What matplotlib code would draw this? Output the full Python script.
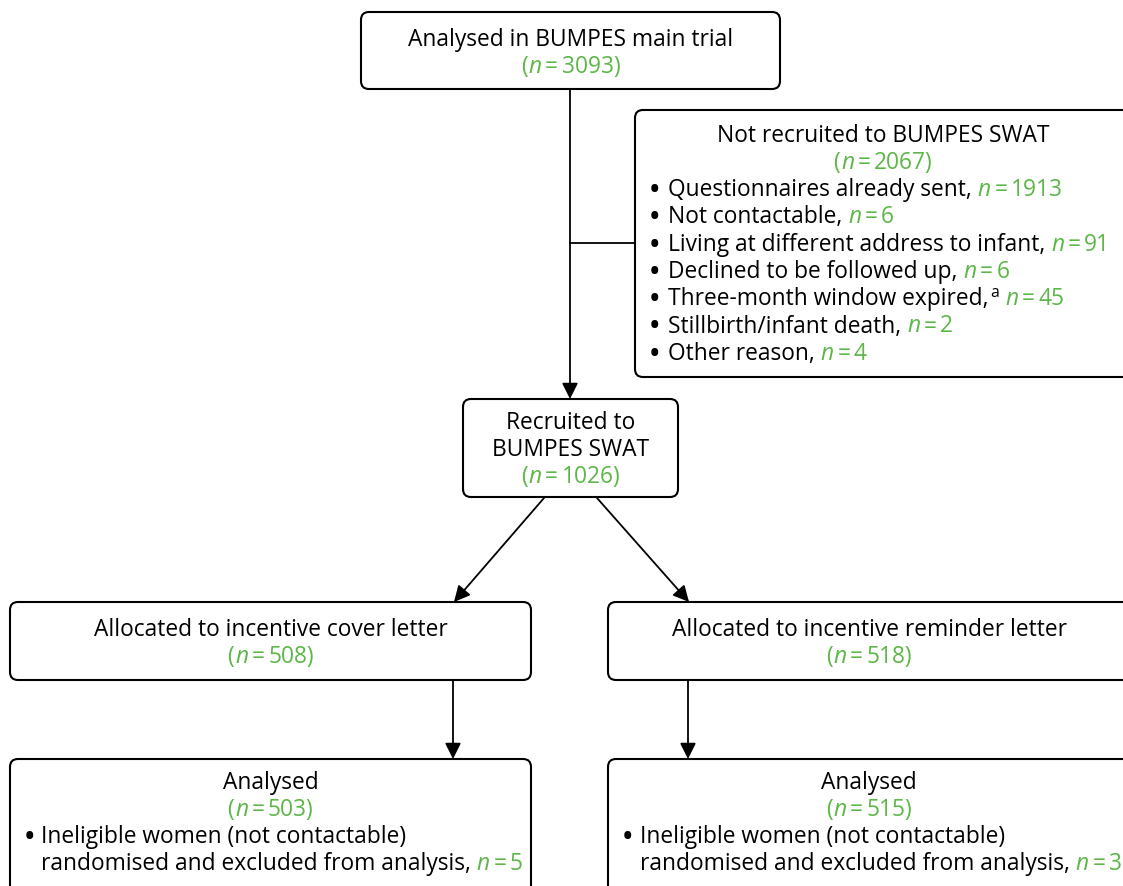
import matplotlib
matplotlib.use('Agg')
import matplotlib.pyplot as plt
from matplotlib.patches import FancyBboxPatch

# ---------------- data ----------------
main_label = "Analysed in BUMPES main trial"
main_n = 3093
not_recruited_label = "Not recruited to BUMPES SWAT"
not_recruited_n = 2067
reasons = ["Questionnaires already sent,", "Not contactable,",
           "Living at different address to infant,", "Declined to be followed up,",
           "Three-month window expired,", "Stillbirth/infant death,", "Other reason,"]
reason_counts = [1913, 6, 91, 6, 45, 2, 4]
reason_notes = ["", "", "", "", "a", "", ""]
recruited_label = ["Recruited to", "BUMPES SWAT"]
recruited_n = 1026
alloc_labels = ["Allocated to incentive cover letter", "Allocated to incentive reminder letter"]
alloc_n = [508, 518]
analysed_label = "Analysed"
analysed_n = [503, 515]
excluded_label = ["Ineligible women (not contactable)", "randomised and excluded from analysis,"]
excluded_n = [5, 3]

# ---------------- style ----------------
FAMILY = ['Open Sans', 'DejaVu Sans']
FS = 16.4
GREEN = '#5cb748'
BLW = 1.5
LLW = 1.3

fig = plt.figure(figsize=(11.23, 8.86), dpi=100)
ax = fig.add_axes([0, 0, 1, 1])
ax.set_xlim(0, 1123)
ax.set_ylim(886, 0)
ax.axis('off')
R = fig.canvas.get_renderer()


def w(s, style='normal', size=FS):
    t = ax.text(0, 0, s, fontsize=size, family=FAMILY, style=style)
    bb = t.get_window_extent(renderer=R)
    t.remove()
    return bb.width


SP = w("a a") - w("aa")
TH = SP * 0.6


def tok(text, color='black', style='normal', size=FS, dy=0, gap=0.0):
    return dict(text=text, color=color, style=style, size=size, dy=dy, gap=gap)


def n_tokens(n, paren=False, gap=None):
    g = SP if gap is None else gap
    out = []
    if paren:
        out.append(tok("(", GREEN, gap=g))
        out.append(tok("n", GREEN, 'italic', gap=1.0))
    else:
        out.append(tok("n", GREEN, 'italic', gap=g))
    out.append(tok("=", GREEN, gap=TH))
    out.append(tok(f"{n}" + (")" if paren else ""), GREEN, gap=TH))
    return out


def draw_line(x, y, tokens, center=False):
    widths = [w(t['text'], t['style'], t['size']) for t in tokens]
    gaps = [t['gap'] for t in tokens]
    gaps[0] = 0
    total = sum(widths) + sum(gaps)
    x0 = x - total / 2 if center else x
    for t, wd, g in zip(tokens, widths, gaps):
        x0 += g
        ax.text(x0, y - t['dy'], t['text'], ha='left', va='baseline',
                fontsize=t['size'], family=FAMILY, style=t['style'], color=t['color'])
        x0 += wd


def box(x0, y0, x1, y1):
    p = FancyBboxPatch((x0, y0), x1 - x0, y1 - y0,
                       boxstyle="round,pad=0,rounding_size=8",
                       fc='white', ec='black', lw=BLW, zorder=2)
    ax.add_patch(p)


def arrow(x0, y0, x1, y1):
    ax.annotate('', xy=(x1, y1), xytext=(x0, y0),
                arrowprops=dict(arrowstyle='-|>', mutation_scale=24, lw=LLW,
                                color='black', shrinkA=0, shrinkB=0), zorder=1)


def bullet(xb, xt, y, tokens):
    ax.text(xb, y + 1, "\u2022", ha='left', va='baseline', fontsize=FS * 1.1,
            fontweight='bold', family=FAMILY, color='black')
    draw_line(xt, y, tokens)


# ---------------- connectors ----------------
arrow(570, 89, 570, 399)
ax.plot([570, 636], [243, 243], color='black', lw=LLW, zorder=1)
arrow(544, 498, 454, 602)
arrow(597, 498, 689, 602)
arrow(453, 680, 453, 759)
arrow(688, 680, 688, 759)

# ---------------- top box ----------------
box(361, 12, 780, 89)
draw_line(570.5, 46, [tok(main_label)], center=True)
draw_line(570.5, 73, n_tokens(main_n, paren=True), center=True)

# ---------------- right exclusion box ----------------
box(635, 110, 1140, 377)
draw_line(883, 142, [tok(not_recruited_label)], center=True)
draw_line(883, 169, n_tokens(not_recruited_n, paren=True), center=True)
for i, (lab, cnt, note) in enumerate(zip(reasons, reason_counts, reason_notes)):
    y = 196 + i * 27.3
    toks = [tok(lab)]
    if note:
        toks.append(tok(note, size=FS * 0.7, dy=8, gap=2.0))
    toks += n_tokens(cnt)
    bullet(650, 668, y, toks)

# ---------------- recruited box ----------------
box(463, 399, 678, 497)
draw_line(570.5, 429, [tok(recruited_label[0])], center=True)
draw_line(570.5, 456, [tok(recruited_label[1])], center=True)
draw_line(570.5, 483, n_tokens(recruited_n, paren=True), center=True)

# ---------------- allocation and analysis boxes ----------------
for i, (bx0, bx1, xb, xt) in enumerate([(10, 531, 25, 41), (608, 1140, 623, 640)]):
    cx = (bx0 + min(bx1, 1130)) / 2
    box(bx0, 602, bx1, 680)
    draw_line(cx, 636, [tok(alloc_labels[i])], center=True)
    draw_line(cx, 663, n_tokens(alloc_n[i], paren=True), center=True)

    box(bx0, 759, bx1, 910)
    draw_line(cx, 789, [tok(analysed_label)], center=True)
    draw_line(cx, 816, n_tokens(analysed_n[i], paren=True), center=True)
    bullet(xb, xt, 843, [tok(excluded_label[0])])
    draw_line(xt, 870, [tok(excluded_label[1])] + n_tokens(excluded_n[i]))

fig.savefig('out.png', dpi=100)
